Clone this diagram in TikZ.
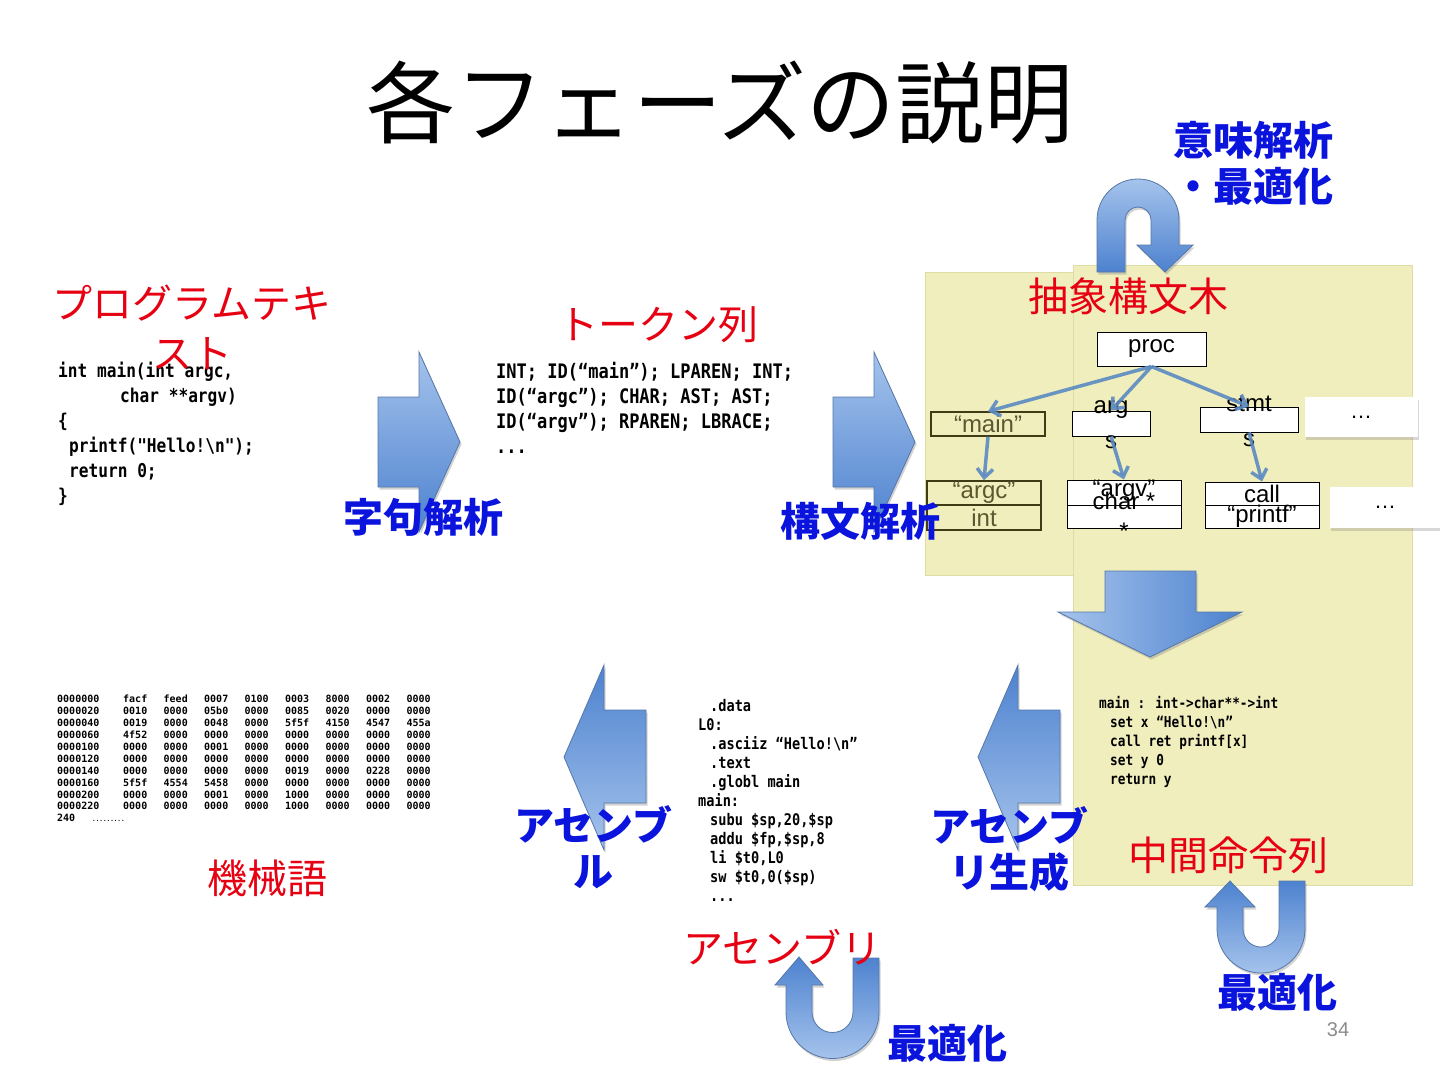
\documentclass[tikz,border=0pt]{standalone}
\usepackage{fontspec}
\setmainfont{Liberation Sans}
\newfontfamily\jpfont{Noto Sans CJK JP}
\newfontfamily\codefont[FakeStretch=0.85]{DejaVu Sans Mono}
\newfontfamily\hexfont{DejaVu Sans Mono}
\usetikzlibrary{arrows.meta,shadows}

\definecolor{slidered}{HTML}{E60012}
\definecolor{slideblue}{HTML}{0A14DC}
\definecolor{panelfill}{HTML}{F0EEBD}
\definecolor{paneledge}{HTML}{DEDBA3}
\definecolor{arrowlight}{HTML}{A5C3EC}
\definecolor{arrowdark}{HTML}{4D82CF}
\definecolor{arrowedge}{HTML}{5577A8}
\definecolor{treeblue}{HTML}{5B8AC2}
\definecolor{olivedraw}{HTML}{3F3B16}
\definecolor{olivetext}{HTML}{5E5631}
\definecolor{pagegray}{HTML}{8C8C8C}

% one row of the hex dump
\newcommand{\hexrow}[9]{\makebox[66pt][l]{#1}\makebox[40.5pt][l]{#2}\makebox[40.5pt][l]{#3}\makebox[40.5pt][l]{#4}\makebox[40.5pt][l]{#5}\makebox[40.5pt][l]{#6}\makebox[40.5pt][l]{#7}\makebox[40.5pt][l]{#8}#9}

\begin{document}
\begin{tikzpicture}[x=1pt,y=-1pt,
    redlabel/.style={text=slidered, font=\jpfont\fontsize{40}{50}\selectfont, align=center},
    bluelabel/.style={text=slideblue, font=\jpfont\bfseries\fontsize{40}{46}\selectfont, align=center},
    codeblock/.style={anchor=north west, inner sep=0pt, align=left},
    panel/.style={fill=panelfill, draw=paneledge, line width=1pt},
    blockarrow/.style={draw=arrowedge, line width=0.8pt,
        drop shadow={shadow xshift=1.5pt, shadow yshift=-2.5pt, opacity=0.35}},
    astbox/.style={draw=black, fill=white, line width=1pt, minimum width=114pt,
        minimum height=24pt, inner sep=0pt, font=\fontsize{24}{30}\selectfont},
    olivebox/.style={draw=olivedraw, line width=1.4pt, minimum width=114pt,
        minimum height=24pt, inner sep=0pt, text=olivetext, font=\fontsize{24}{30}\selectfont},
    asttext/.style={font=\fontsize{24}{35}\selectfont, align=center, inner sep=0pt},
    dotsbox/.style={fill=white, minimum width=113pt, minimum height=40pt,
        font=\fontsize{22}{22}\selectfont,
        drop shadow={shadow xshift=1pt, shadow yshift=-3pt, opacity=0.3}},
    treearrow/.style={draw=treeblue, line width=3.5pt, opacity=0.9,
        -{Straight Barb[length=9pt, width=16pt]}}
  ]
  \useasboundingbox (0,0) rectangle (1440,1080);
  \fill[white] (0,0) rectangle (1440,1080);

  % Title
  \node[font=\jpfont\fontsize{89}{95}\selectfont] (title) at (720,103) {各フェーズの説明};

  % Panels behind the tree and the IR
  \draw[panel] (925,272) rectangle (1075,575);
  \draw[panel] (1073,265) rectangle (1412,885);

  % Abstract syntax tree
  \node[astbox, minimum width=109pt, minimum height=34pt] (proc) at (1151.5,349) {proc};
  \node[olivebox] (main) at (988,424) {“main”};
  \node[astbox, minimum width=78pt, minimum height=25pt] (args) at (1111,423.5) {};
  \node[astbox, minimum width=98pt, minimum height=25pt] (stmts) at (1249,419.5) {};
  \node[dotsbox] (dotsA) at (1361,417) {…};
  \node[olivebox] (argc) at (984,493) {“argc”};
  \node[olivebox, minimum height=25pt] (int) at (984,517.5) {int};
  \node[astbox, minimum height=25pt] (argv) at (1124,492.5) {};
  \node[astbox, minimum height=23pt] (charpp) at (1124,516.5) {};
  \node[astbox, minimum height=23pt] (call) at (1262,493.5) {call};
  \node[astbox, minimum height=23pt] (printf) at (1262,516.5) {“printf”};
  \node[dotsbox, minimum width=110pt, minimum height=41pt] (dotsB) at (1385,507.5) {…};
  % texts that spill out of their boxes
  \node[asttext] at (1111,425) {arg\\s};
  \node[asttext] at (1249,421) {stmt\\s};
  \node[asttext] at (1124,491) {“argv”};
  \node[asttext, font=\fontsize{24}{30}\selectfont] at (1124,516) {char *\\*};

  \draw[treearrow] (proc.south) -- (main.north);
  \draw[treearrow] (proc.south) -- (args.north);
  \draw[treearrow] (proc.south) -- (stmts.north);
  \draw[treearrow] (main.south) -- (argc.north);
  \draw[treearrow] (args.south) -- (argv.north);
  \draw[treearrow] (stmts.south) -- (call.north);

  % Block arrows between the phases
  \foreach \bx in {378,833} {
    \draw[blockarrow, top color=arrowlight, bottom color=arrowdark]
      (\bx,397) -- ({\bx+41},397) -- ({\bx+41},352) -- ({\bx+82},442)
      -- ({\bx+41},532) -- ({\bx+41},487) -- (\bx,487) -- cycle;
  }
  \draw[blockarrow, left color=arrowlight, right color=arrowdark]
    (1105,571) -- (1196,571) -- (1196,612) -- (1242,612) -- (1150,657)
    -- (1058,612) -- (1105,612) -- cycle;
  \foreach \tx in {564,978} {
    \draw[blockarrow, top color=arrowdark, bottom color=arrowlight]
      (\tx,757) -- ({\tx+40},665) -- ({\tx+40},710) -- ({\tx+82},710)
      -- ({\tx+82},803) -- ({\tx+40},803) -- ({\tx+40},850) -- cycle;
  }

  % U-turn arrows
  \draw[blockarrow, top color=arrowlight, bottom color=arrowdark]
    (1097,272) -- (1097,220) arc[start angle=180, end angle=0, radius=41pt]
    -- (1179,245) -- (1193,245) -- (1165,272) -- (1137,245) -- (1151,245)
    -- (1151,220) arc[start angle=0, end angle=180, radius=13pt] -- (1125,272) -- cycle;
  \draw[blockarrow, top color=arrowdark, bottom color=arrowlight]
    (1305,881) -- (1305,929) arc[start angle=0, end angle=-180, radius=44pt]
    -- (1217,907) -- (1205,907) -- (1230,881) -- (1255,907) -- (1243,907)
    -- (1243,929) arc[start angle=180, end angle=360, radius=18pt] -- (1279,881) -- cycle;
  \draw[blockarrow, top color=arrowdark, bottom color=arrowlight]
    (879,958) -- (879,1012) arc[start angle=0, end angle=-180, radius=46.5pt]
    -- (786,985) -- (775,985) -- (799,957) -- (823,985) -- (812,985)
    -- (812,1012) arc[start angle=180, end angle=360, radius=20.5pt] -- (853,958) -- cycle;

  % Code samples
  \node[codeblock, font=\codefont\bfseries\fontsize{19}{25}\selectfont] (srccode) at (58,362)
    {int main(int argc,\\\hspace*{62pt}char **argv)\\\{\\\hspace*{11pt}printf("Hello!\textbackslash n");\\\hspace*{11pt}return 0;\\\}};
  \node[codeblock, font=\codefont\bfseries\fontsize{20}{25}\selectfont] (tokens) at (496,362)
    {INT; ID(“main”); LPAREN; INT;\\ID(“argc”); CHAR; AST; AST;\\ID(“argv”); RPAREN; LBRACE;\\...};
  \node[codeblock, font=\codefont\bfseries\fontsize{16}{19}\selectfont] (asm) at (698,699)
    {\hspace*{12pt}.data\\L0:\\\hspace*{12pt}.asciiz “Hello!\textbackslash n”\\\hspace*{12pt}.text\\\hspace*{12pt}.globl main\\main:\\\hspace*{12pt}subu \$sp,20,\$sp\\\hspace*{12pt}addu \$fp,\$sp,8\\\hspace*{12pt}li  \$t0,L0\\\hspace*{12pt}sw   \$t0,0(\$sp)\\\hspace*{12pt}...};
  \node[codeblock, font=\codefont\bfseries\fontsize{15}{19}\selectfont] (ircode) at (1099,696)
    {main : int->char**->int\\\hspace*{11pt}set x “Hello!\textbackslash n”\\\hspace*{11pt}call ret printf[x]\\\hspace*{11pt}set y 0\\\hspace*{11pt}return y};
  \node[codeblock, font=\hexfont\bfseries\fontsize{10}{11.9}\selectfont] (hexdump) at (57,695)
    {\hexrow{0000000}{facf}{feed}{0007}{0100}{0003}{8000}{0002}{0000}\\
     \hexrow{0000020}{0010}{0000}{05b0}{0000}{0085}{0020}{0000}{0000}\\
     \hexrow{0000040}{0019}{0000}{0048}{0000}{5f5f}{4150}{4547}{455a}\\
     \hexrow{0000060}{4f52}{0000}{0000}{0000}{0000}{0000}{0000}{0000}\\
     \hexrow{0000100}{0000}{0000}{0001}{0000}{0000}{0000}{0000}{0000}\\
     \hexrow{0000120}{0000}{0000}{0000}{0000}{0000}{0000}{0000}{0000}\\
     \hexrow{0000140}{0000}{0000}{0000}{0000}{0019}{0000}{0228}{0000}\\
     \hexrow{0000160}{5f5f}{4554}{5458}{0000}{0000}{0000}{0000}{0000}\\
     \hexrow{0000200}{0000}{0000}{0001}{0000}{1000}{0000}{0000}{0000}\\
     \hexrow{0000220}{0000}{0000}{0000}{0000}{1000}{0000}{0000}{0000}\\
     \makebox[35pt][l]{240}{\fontsize{6}{6}\selectfont .........}};

  % Red labels: what each phase produces
  \node[redlabel] (srclbl) at (192,327) {プログラムテキ\\スト};
  \node[redlabel] (toklbl) at (658,325) {トークン列};
  \node[redlabel] (astlbl) at (1128,296) {抽象構文木};
  \node[redlabel] (irlbl) at (1228,855) {中間命令列};
  \node[redlabel] (mclbl) at (267,878) {機械語};
  \node[redlabel] (asmlbl) at (782,947) {アセンブリ};

  % Blue labels: the phases
  \node[bluelabel] (lex) at (423,517) {字句解析};
  \node[bluelabel] (parse) at (860,521) {構文解析};
  \node[bluelabel, align=right, anchor=east] (sema) at (1337,163) {意味解析\\・最適化};
  \node[bluelabel] (asmb) at (593,847) {アセンブ\\ル};
  \node[bluelabel] (asmgen) at (1009,849) {アセンブ\\リ生成};
  \node[bluelabel] (optA) at (1277,992) {最適化};
  \node[bluelabel] (optB) at (947,1043) {最適化};

  \node[text=pagegray, font=\fontsize{20}{20}\selectfont] (pageno) at (1338,1030) {34};
\end{tikzpicture}
\end{document}
